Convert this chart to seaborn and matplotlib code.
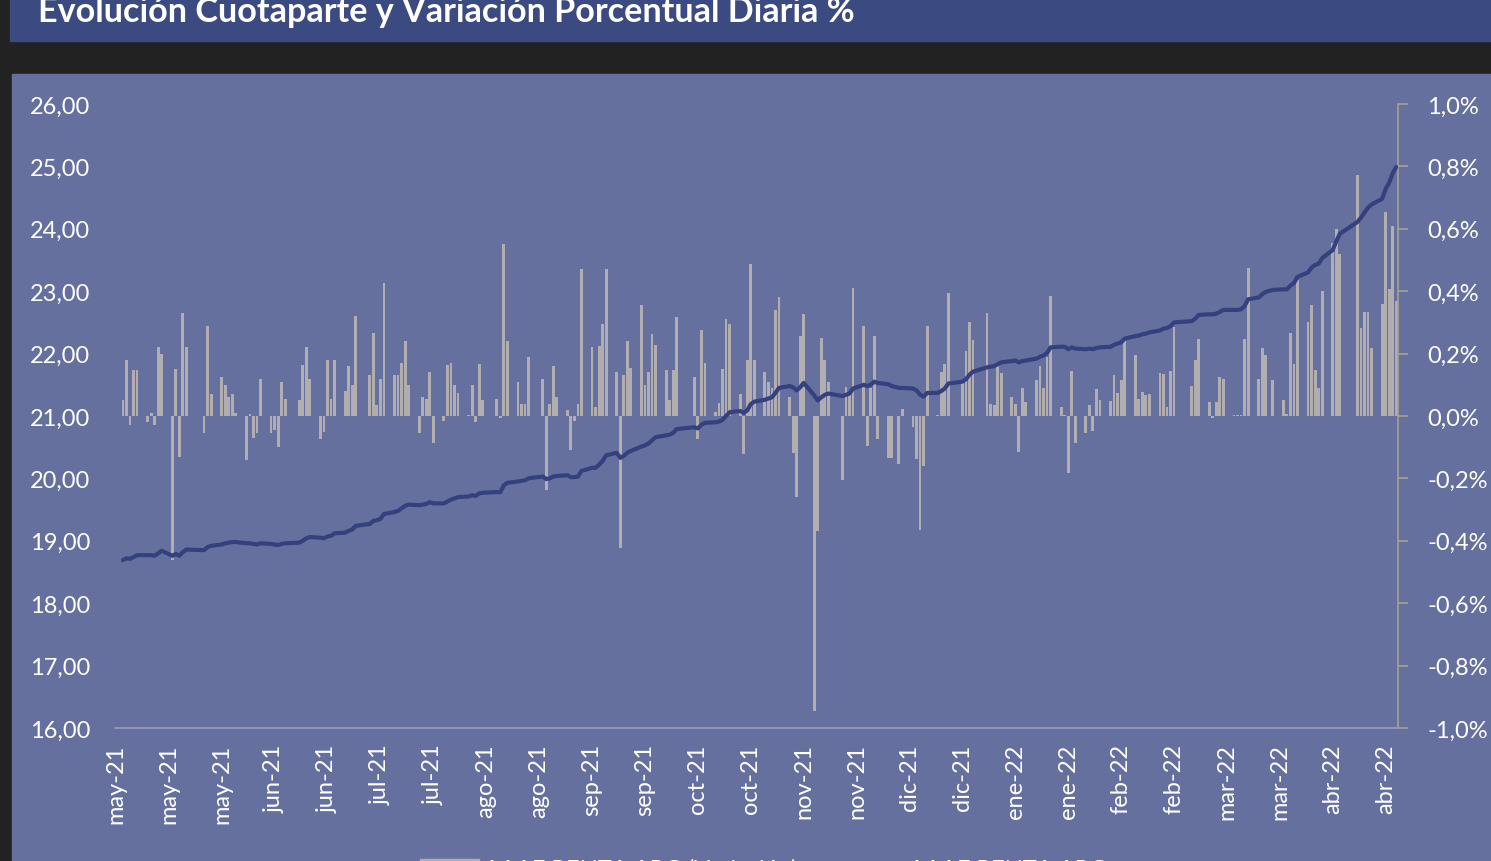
import pandas as pd
import matplotlib
matplotlib.use("Agg")
import matplotlib.pyplot as plt
from matplotlib.patches import Rectangle, Patch
from matplotlib.lines import Line2D
import seaborn as sns

# feriados (sin cotización) entre may-21 y abr-22
feriados = ["2021-05-24", "2021-05-25", "2021-06-21", "2021-07-09", "2021-08-16",
            "2021-10-08", "2021-10-11", "2021-11-22", "2021-12-08", "2021-12-24",
            "2021-12-31", "2022-02-28", "2022-03-01", "2022-03-24", "2022-04-14",
            "2022-04-15"]

# variación diaria en %, una fila por semana
variacion = [
    0.05, 0.18, -0.03, 0.146, 0.146,
    -0.02, 0.01, -0.03, 0.22, 0.20,
    -0.46, 0.15, -0.13, 0.33, 0.22,
    -0.055, 0.29, 0.07,
    0.125, 0.10, 0.06, 0.07, 0.01,
    -0.14, 0.005, -0.07, -0.055, 0.12,
    -0.055, -0.045, -0.10, 0.11, 0.055,
    0.05, 0.165, 0.22, 0.12,
    -0.075, -0.05, 0.18, 0.055, 0.18,
    0.08, 0.16, 0.10, 0.32,
    0.13, 0.265, 0.035, 0.12, 0.425,
    0.13, 0.13, 0.17, 0.24, 0.10,
    -0.055, 0.06, 0.053, 0.14, -0.085,
    -0.016, 0.163, 0.17, 0.10, 0.075,
    0.002, 0.098, -0.02, 0.168, 0.05,
    0.053, -0.005, 0.55, 0.24,
    0.11, 0.037, 0.037, 0.19, 0.0,
    0.12, -0.237, 0.037, 0.16, 0.06,
    0.02, -0.11, -0.016, 0.04, 0.47,
    0.22, 0.03, 0.224, 0.296, 0.47,
    0.14, -0.424, 0.13, 0.24, 0.155,
    0.356, 0.10, 0.14, 0.264, 0.226,
    0.146, 0.05, 0.146, 0.317,
    0.125, -0.075, 0.275, 0.17,
    0.014, 0.043, 0.152, 0.31, 0.294,
    0.07, -0.123, 0.18, 0.486, 0.178,
    0.14, 0.11, 0.09, 0.34, 0.38,
    0.06, -0.12, -0.26, 0.256, 0.326,
    -0.945, -0.37, 0.25, 0.18, 0.11,
    -0.205, 0.093, 0.075, 0.41,
    0.29, -0.096, 0.09, 0.256, -0.075,
    -0.134, -0.134, -0.155, 0.021,
    -0.035, -0.139, -0.365, -0.16, 0.288,
    0.002, 0.14, 0.166, 0.395,
    0.107, 0.208, 0.30, 0.243,
    0.33, 0.04, 0.034, 0.16, 0.139,
    0.061, 0.04, -0.114, 0.089, 0.045,
    0.114, 0.16, 0.089, 0.19, 0.385,
    0.029, 0.003, -0.184, 0.144, -0.088,
    -0.056, 0.035, -0.048, 0.085, 0.051,
    0.048, 0.131, 0.075, 0.115, 0.24,
    0.194, 0.053, 0.078, 0.067, 0.069,
    0.139, 0.134, 0.029, 0.144, 0.286,
    0.096, 0.178, 0.248,
    0.045, -0.007, 0.045, 0.126, 0.118,
    0.002, 0.002, 0.002, 0.246, 0.475,
    0.118, 0.217, 0.194, 0.115,
    0.051, 0.007, 0.265, 0.168, 0.436,
    0.30, 0.355, 0.146, 0.091, 0.40,
    0.556, 0.60, 0.52,
    0.771, 0.281, 0.333, 0.334, 0.219,
    0.36, 0.655, 0.408, 0.609, 0.37,
]

# valor de la cuotaparte, misma grilla
cuotaparte = [
    18.69, 18.72, 18.71, 18.74, 18.77,
    18.77, 18.77, 18.76, 18.80, 18.84,
    18.76, 18.79, 18.76, 18.82, 18.86,
    18.85, 18.90, 18.92,
    18.94, 18.96, 18.97, 18.98, 18.98,
    18.96, 18.96, 18.95, 18.94, 18.96,
    18.95, 18.94, 18.93, 18.95, 18.96,
    18.97, 19.00, 19.04, 19.06,
    19.05, 19.04, 19.07, 19.08, 19.12,
    19.13, 19.16, 19.18, 19.24,
    19.27, 19.32, 19.33, 19.35, 19.43,
    19.46, 19.48, 19.52, 19.56, 19.58,
    19.57, 19.58, 19.59, 19.62, 19.60,
    19.60, 19.63, 19.66, 19.68, 19.70,
    19.71, 19.73, 19.72, 19.76, 19.77,
    19.78, 19.78, 19.89, 19.93,
    19.95, 19.96, 19.97, 20.00, 20.01,
    20.03, 19.99, 20.00, 20.03, 20.04,
    20.05, 20.02, 20.02, 20.03, 20.12,
    20.17, 20.17, 20.22, 20.28, 20.37,
    20.41, 20.33, 20.36, 20.41, 20.44,
    20.51, 20.53, 20.56, 20.61, 20.66,
    20.69, 20.70, 20.73, 20.79,
    20.82, 20.80, 20.86, 20.89,
    20.90, 20.91, 20.94, 21.00, 21.06,
    21.08, 21.05, 21.09, 21.19, 21.23,
    21.26, 21.28, 21.30, 21.37, 21.45,
    21.48, 21.46, 21.41, 21.46, 21.53,
    21.33, 21.25, 21.30, 21.34, 21.36,
    21.32, 21.34, 21.36, 21.44,
    21.50, 21.48, 21.50, 21.55, 21.53,
    21.51, 21.48, 21.45, 21.45,
    21.44, 21.41, 21.34, 21.31, 21.37,
    21.37, 21.40, 21.44, 21.52,
    21.55, 21.59, 21.66, 21.71,
    21.78, 21.79, 21.80, 21.83, 21.86,
    21.88, 21.89, 21.86, 21.88, 21.89,
    21.92, 21.95, 21.97, 22.01, 22.10,
    22.11, 22.11, 22.07, 22.10, 22.08,
    22.07, 22.08, 22.07, 22.09, 22.10,
    22.11, 22.14, 22.16, 22.18, 22.24,
    22.28, 22.29, 22.31, 22.32, 22.34,
    22.37, 22.40, 22.41, 22.44, 22.50,
    22.52, 22.56, 22.62,
    22.63, 22.63, 22.64, 22.67, 22.70,
    22.70, 22.70, 22.71, 22.76, 22.87,
    22.90, 22.95, 22.99, 23.02,
    23.03, 23.03, 23.09, 23.13, 23.23,
    23.30, 23.38, 23.42, 23.44, 23.53,
    23.66, 23.80, 23.92,
    24.11, 24.18, 24.26, 24.34, 24.39,
    24.48, 24.64, 24.74, 24.89, 24.99,
]

meses = ["ene", "feb", "mar", "abr", "may", "jun", "jul", "ago", "sep", "oct", "nov", "dic"]

dias = pd.bdate_range("2021-05-03", "2022-04-29")
dias = dias[~dias.isin(pd.to_datetime(feriados))]
df = pd.DataFrame({"fecha": dias, "variacion": variacion, "cuotaparte": cuotaparte})

# marcas del eje x cada 15 días
marcas = pd.date_range("2021-05-01", periods=25, freq="15D")
etiquetas = [f"{meses[d.month - 1]}-{d.strftime('%y')}" for d in marcas]

sns.set_theme(style="white")
plt.rcParams["font.family"] = ["Lato", "DejaVu Sans"]

W, H = 1491, 862
col_barra = "#b2aeaf"
col_linea = "#34417e"
fondo = "#66709e"

fig = plt.figure(figsize=(W / 100, H / 100), dpi=100, facecolor="#222222")
fig.patches.append(Rectangle((10 / W, 1 - 42 / H), 1, 42 / H, transform=fig.transFigure,
                             color="#3b4a80", zorder=-10))
fig.patches.append(Rectangle((12 / W, 0), 1, (H - 75) / H, transform=fig.transFigure,
                             color=fondo, zorder=-10))
fig.text(38 / W, 1 - 22.5 / H, "Evolución Cuotaparte y Variación Porcentual Diaria %",
         color="white", fontsize=24.6, fontweight="bold", va="baseline", ha="left")

ax = fig.add_axes([115 / W, (H - 729) / H, 1283 / W, 624 / H])
ax2 = ax.twinx()

# barras de variación (eje derecho)
ax2.bar(df["fecha"], df["variacion"], width=0.8, color=col_barra, linewidth=0)
# línea de cuotaparte (eje izquierdo)
sns.lineplot(data=df, x="fecha", y="cuotaparte", ax=ax, color=col_linea, linewidth=3)

ax.set_zorder(ax2.get_zorder() + 1)
ax.patch.set_visible(False)
ax2.patch.set_visible(False)

ax.set_xlim(pd.Timestamp("2021-04-30 18:00"), pd.Timestamp("2022-04-29 12:00"))
ax.set_ylim(16, 26)
ax.set_yticks(range(16, 27))
ax.set_yticklabels([f"{v},00" for v in range(16, 27)])
ax2.set_ylim(-1.0, 1.0)
pct = [-1.0, -0.8, -0.6, -0.4, -0.2, 0.0, 0.2, 0.4, 0.6, 0.8, 1.0]
ax2.set_yticks(pct)
ax2.set_yticklabels([f"{v:.1f}%".replace(".", ",") for v in pct])

ax.set_xticks(marcas)
ax.set_xticklabels(etiquetas, rotation=90)
ax.set_xlabel("")
ax.set_ylabel("")

for s in ["left", "top", "right"]:
    ax.spines[s].set_visible(False)
ax.spines["bottom"].set_color("#9a9db8")
ax.spines["bottom"].set_linewidth(1.2)
for s in ["left", "top", "bottom"]:
    ax2.spines[s].set_visible(False)
ax2.spines["right"].set_color("#a6a38e")
ax2.spines["right"].set_linewidth(1.2)

ax.tick_params(axis="y", length=0, labelsize=17, labelcolor="white", pad=18)
ax.tick_params(axis="x", length=0, labelsize=17, labelcolor="white", pad=11)
ax2.tick_params(axis="y", length=7, width=1.2, color="#a6a38e", labelsize=17,
                labelcolor="white", pad=14)

handles = [Patch(color=col_barra), Line2D([0], [0], color=col_linea, linewidth=3)]
fig.legend(handles, ["AAAF RENTA ARG (Variación)", "AAAF RENTA ARG"], loc="center",
           bbox_to_anchor=(0.512, -0.009), ncol=2, frameon=False, fontsize=17,
           labelcolor="white", handlelength=2.5, handletextpad=0.2, columnspacing=2.0)

fig.savefig("out.png", dpi=100, facecolor=fig.get_facecolor())
